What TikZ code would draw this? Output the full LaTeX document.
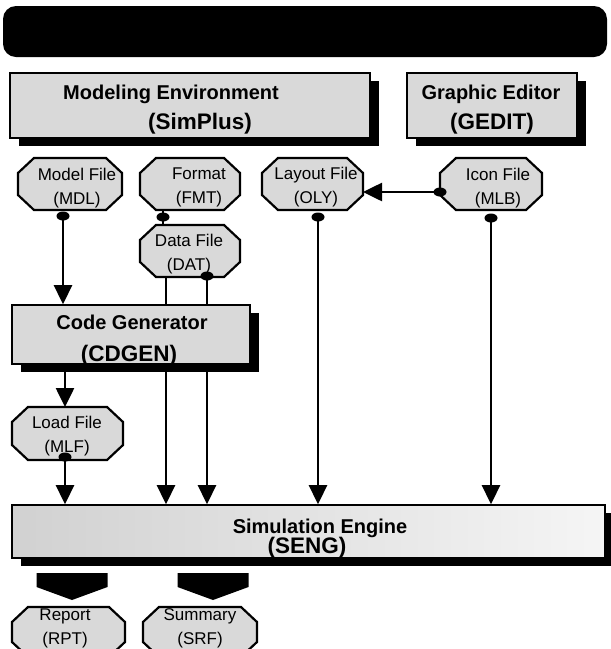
\documentclass[tikz,border=0pt]{standalone}
\usepackage{fontspec}
\setmainfont{Liberation Sans}
\usetikzlibrary{arrows.meta,shadows,shapes.geometric}
\newcommand\octagon[1]{%
  \filldraw[octline] ([xshift=16pt]#1.north west) -- ([xshift=-16pt]#1.north east)
    -- ([yshift=-15pt]#1.north east) -- ([yshift=15pt]#1.south east)
    -- ([xshift=-16pt]#1.south east) -- ([xshift=16pt]#1.south west)
    -- ([yshift=15pt]#1.south west) -- ([yshift=-15pt]#1.north west) -- cycle;}
\begin{document}
\begin{tikzpicture}[x=1pt,y=-1pt,
  box/.style={draw=black, line width=1.6pt, fill=black!15, inner sep=0pt,
    drop shadow={shadow xshift=9pt, shadow yshift=-8pt, fill=black, opacity=1}},
  octbox/.style={shape=rectangle, inner sep=0pt, outer sep=0pt},
  octline/.style={draw=black, line width=2.2pt, fill=black!15},
  octtext/.style={font=\fontsize{17}{24}\selectfont, align=center, inner sep=0pt},
  titleA/.style={font=\bfseries\fontsize{20}{24}\selectfont, anchor=base, inner sep=0pt},
  titleB/.style={font=\bfseries\fontsize{22.5}{27}\selectfont, anchor=base, inner sep=0pt},
  dot/.style={shape=ellipse, fill=black, minimum width=13pt, minimum height=9pt, inner sep=0pt},
  conn/.style={line width=2.6pt, -{Triangle[length=19pt,width=18pt]}},
  plain/.style={line width=2.6pt},
  blockarrow/.style={fill=black}]
\useasboundingbox (0,0) rectangle (611,649);
\clip (0,0) rectangle (611,649);
% title bar
\node[fill=black, rounded corners=13pt, minimum width=604pt, minimum height=51pt, inner sep=0pt] (title) at (305,31.5) {};
% top boxes
\node[box, minimum width=360pt, minimum height=65pt] (menv) at (190,105.5) {};
\node[titleA] (menvA) at (171,99) {Modeling Environment};
\node[titleB] (menvB) at (200,129) {(SimPlus)};
\node[box, minimum width=170pt, minimum height=65pt] (gedit) at (492,105.5) {};
\node[titleA] (geditA) at (491,99) {Graphic Editor};
\node[titleB] (geditB) at (492,129) {(GEDIT)};
% octagons
\node[octbox, minimum width=104pt, minimum height=52pt] (mdl) at (70,184) {};
\octagon{mdl}
\node[octtext] (mdlt) at (77,188) {Model File\\(MDL)};
\node[octbox, minimum width=100pt, minimum height=52pt] (fmt) at (190,184) {};
\octagon{fmt}
\node[octtext] (fmtt) at (199,187) {Format\\(FMT)};
\node[octbox, minimum width=101pt, minimum height=52pt] (oly) at (312.5,184) {};
\octagon{oly}
\node[octtext] (olyt) at (316,187) {Layout File\\(OLY)};
\node[octbox, minimum width=102pt, minimum height=52pt] (mlb) at (491,184) {};
\octagon{mlb}
\node[octtext] (mlbt) at (498,188) {Icon File\\(MLB)};
\node[octbox, minimum width=100pt, minimum height=52pt] (dat) at (190,251) {};
\octagon{dat}
\node[octtext] (datt) at (189,254) {Data File\\(DAT)};
\node[octbox, minimum width=111pt, minimum height=53pt] (mlf) at (67.5,433.5) {};
\octagon{mlf}
\node[octtext] (mlft) at (67,436) {Load File\\(MLF)};
\node[octbox, minimum width=113pt, minimum height=50pt] (rpt) at (68.5,632) {};
\octagon{rpt}
\node[octtext] (rptt) at (65,628.5) {Report\\(RPT)};
\node[octbox, minimum width=114pt, minimum height=50pt] (srf) at (200,632) {};
\octagon{srf}
\node[octtext] (srft) at (200,628.5) {Summary\\(SRF)};
% simulation engine
\node[box, left color=black!18, right color=black!4, minimum width=593pt, minimum height=53pt] (seng) at (308.5,531.5) {};
\node[titleA] (sengA) at (320,533) {Simulation Engine};
\node[titleB] (sengB) at (307,553) {(SENG)};
% dots
\node[dot] (d1) at (63,216) {};
\node[dot] (d2) at (163,217) {};
\node[dot] (d3) at (207,276) {};
\node[dot] (d4) at (318,217) {};
\node[dot] (d5) at (491,218) {};
\node[dot] (d6) at (440,192) {};
\node[dot] (d7) at (65,457) {};
% data file lines (pass behind the code generator)
\draw[conn] ([xshift=-24pt]dat.south) -- ([xshift=-24pt]dat.south |- seng.north);
\draw[conn] (d3.center) -- (d3 |- seng.north);
% code generator
\node[box, minimum width=238pt, minimum height=59pt] (cdgen) at (131,334.5) {};
\node[titleA] (cdgenA) at (132,329) {Code Generator};
\node[titleB] (cdgenB) at (129,361) {(CDGEN)};
% connectors
\draw[conn] (d1.center) -- (d1 |- cdgen.north);
\draw[plain] (d2 |- fmt.south) -- (d2 |- dat.north);
\draw[conn] (d4.center) -- (d4 |- seng.north);
\draw[conn] (d5.center) -- (d5 |- seng.north);
\draw[conn] (d6.center) -- (oly.east |- d6);
\draw[conn] (d7 |- cdgen.south) -- (d7 |- mlf.north);
\draw[conn] (d7.center) -- (d7 |- seng.north);
% block arrows to outputs
\coordinate (ra) at (72,573);
\coordinate (sa) at (213,573);
\fill[blockarrow] (ra) ++(-35.5,0) -- ++(71,0) -- ++(0,14) -- ++(-35.5,13) -- ++(-35.5,-13) -- cycle;
\fill[blockarrow] (sa) ++(-35.5,0) -- ++(71,0) -- ++(0,14) -- ++(-35.5,13) -- ++(-35.5,-13) -- cycle;
\end{tikzpicture}
\end{document}
